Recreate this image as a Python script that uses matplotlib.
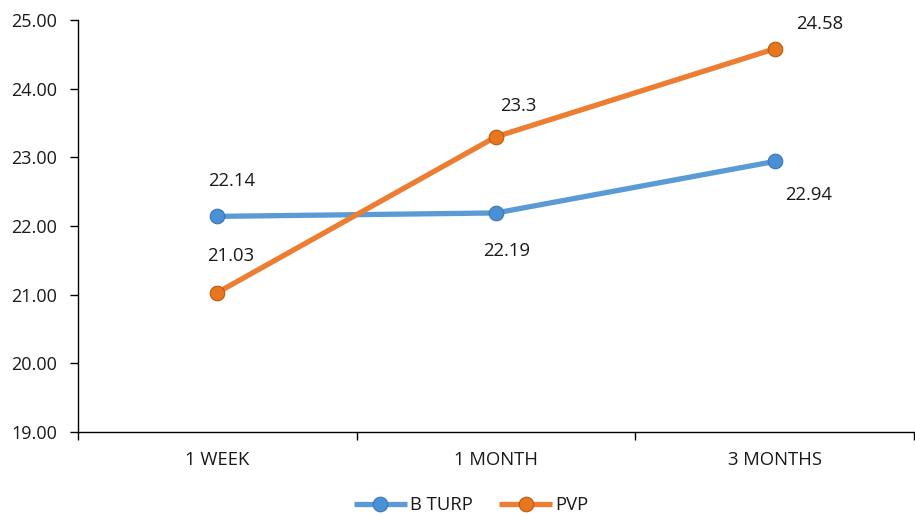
import matplotlib
matplotlib.use("Agg")
import matplotlib.pyplot as plt

categories = ["1 WEEK", "1 MONTH", "3 MONTHS"]
b_turp = [22.14, 22.19, 22.94]
pvp = [21.03, 23.3, 24.58]
b_turp_labels = ["22.14", "22.19", "22.94"]
pvp_labels = ["21.03", "23.3", "24.58"]
yticks = [19, 20, 21, 22, 23, 24, 25]

plt.rcParams['font.family'] = ['Open Sans', 'DejaVu Sans']
fig = plt.figure(figsize=(9.15, 5.15), dpi=100)
ax = fig.add_axes([78/915, 1-432/515, 836/915, 412/515])

blue = "#5B9BD5"
orange = "#ED7D31"
txt = "#1a1a1a"
x = list(range(len(categories)))
ax.plot(x, b_turp, color=blue, lw=3.8, marker='o', ms=10.5,
        markerfacecolor="#4A90D6", markeredgecolor="#3A78B5", mew=0.8,
        label="B TURP", zorder=3, solid_capstyle='butt')
ax.plot(x, pvp, color=orange, lw=3.8, marker='o', ms=10.5,
        markerfacecolor="#E8761E", markeredgecolor="#B85A12", mew=0.8,
        label="PVP", zorder=3, solid_capstyle='butt')

b_off = [(14, 35), (11, -38), (34, -34)]
p_off = [(13, 37), (22, 31), (45, 25)]
for i in x:
    ax.annotate(b_turp_labels[i], (i, b_turp[i]), xytext=b_off[i],
                textcoords='offset pixels', ha='center', va='center',
                fontsize=13.3, color=txt)
    ax.annotate(pvp_labels[i], (i, pvp[i]), xytext=p_off[i],
                textcoords='offset pixels', ha='center', va='center',
                fontsize=13.3, color=txt)

ax.set_xlim(-0.5, 2.5)
ax.set_ylim(19, 25)
ax.set_yticks(yticks)
ax.set_yticklabels([f"{v:.2f}" for v in yticks], fontsize=13, color=txt)
ax.set_xticks([-0.5, 0.5, 1.5, 2.5])
ax.set_xticklabels([])
ax.set_xticks(x, minor=True)
ax.set_xticklabels(categories, minor=True, fontsize=13.3, color=txt)
ax.tick_params(axis='x', which='minor', length=0, pad=14)
ax.tick_params(axis='x', which='major', length=6, direction='out', width=1)
ax.tick_params(axis='y', length=6, direction='out', width=1, pad=9)
for s in ['top', 'right']:
    ax.spines[s].set_visible(False)
for s in ['left', 'bottom']:
    ax.spines[s].set_linewidth(1)
    ax.spines[s].set_color('#000000')

leg = fig.legend(loc='center', bbox_to_anchor=(471/915, 1-505/515), ncol=2,
                 frameon=False, fontsize=13.3, handlelength=2.9,
                 columnspacing=1.4, handletextpad=0.15)
for t in leg.get_texts():
    t.set_color(txt)
fig.savefig("out.png", dpi=100)
